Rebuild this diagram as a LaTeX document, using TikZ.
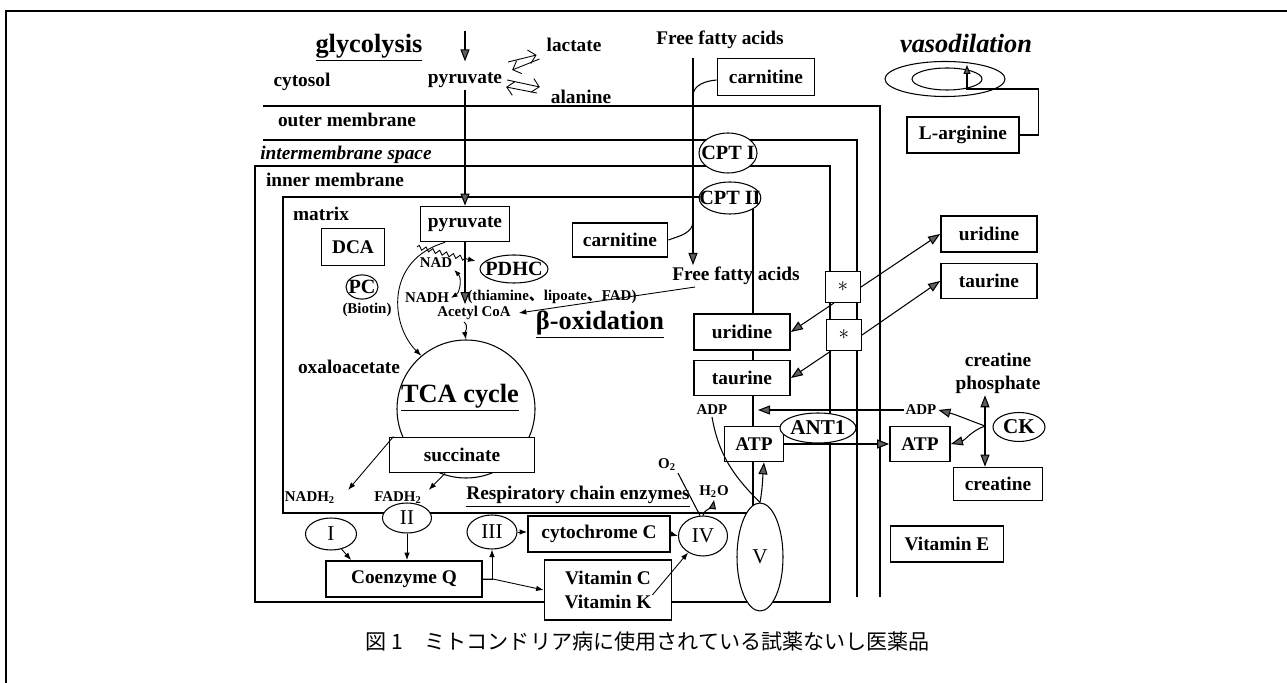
\documentclass[tikz,border=0pt]{standalone}
\usepackage{fontspec}
\setmainfont{Liberation Serif}
\newfontfamily\cjk{Noto Sans CJK JP}
\usepackage{tikz}
\usetikzlibrary{arrows.meta, positioning, shapes.geometric, calc, decorations.pathmorphing}
\definecolor{HeadGray}{RGB}{95, 95, 95}

\begin{document}
\begin{tikzpicture}[
  box/.style={draw, line width=1pt, fill=white, font=\bfseries\fontsize{11}{14}\selectfont, align=center, minimum height=0.72cm, inner sep=1pt},
  oval/.style={ellipse, draw, line width=0.6pt, fill=white, font=\bfseries\fontsize{11.5}{12}\selectfont, inner xsep=-3pt, inner ysep=1pt},
  num/.style={oval, font=\fontsize{12}{12}\selectfont},
  lab/.style={font=\bfseries\fontsize{11}{13}\selectfont, inner sep=1pt, align=center},
  sml/.style={font=\bfseries\fontsize{8.5}{9}\selectfont, inner sep=1pt},
  big/.style={font=\bfseries\fontsize{15}{17}\selectfont, inner sep=1pt},
  mem/.style={line width=0.6pt},
  arr/.style={-{Triangle[length=2.4mm, width=1.8mm, fill=HeadGray]}, line width=0.6pt},
  arrs/.style={-{Triangle[length=1.8mm, width=1.4mm, fill=HeadGray]}, line width=0.6pt},
  tarr/.style={-{Latex[length=1.5mm, width=1.1mm]}, line width=0.5pt},
  harr/.style={-{Straight Barb[length=1.4mm]}, line width=0.5pt}]
\useasboundingbox (0,0) rectangle (25.74,-13.66);
% frame and membranes
\draw[line width=1.2pt] (0.12,-13.66) -- (0.12,-0.22) -- (25.74,-0.22);
\draw[mem] (5.26,-2.12) -- (17.6,-2.12) -- (17.6,-11.94);
\draw[mem] (5.26,-2.8) -- (17.14,-2.8) -- (17.14,-11.94);
\draw[mem] (5.1,-3.32) rectangle (16.6,-12.04);
\draw[mem] (5.66,-3.94) rectangle (15.06,-10.26);
% cytosol side
\node[big] (glyco) at (7.38,-0.96) {\underline{glycolysis}};
\node[lab] (cyto) at (6.04,-1.64) {cytosol};
\node[lab] (pyr0) at (9.3,-1.6) {pyruvate};
\node[lab] (lac) at (11.48,-0.9) {lactate};
\node[lab] (ala) at (11.62,-1.94) {alanine};
\node[lab] (outm) at (6.94,-2.4) {outer membrane};
\node[lab] (intm) at (6.92,-3.1) {\itshape intermembrane space};
\node[lab] (innm) at (6.7,-3.6) {inner membrane};
\node[lab] (matr) at (6.42,-4.28) {matrix};
\node[lab] (ffa1) at (14.4,-0.8) {Free fatty acids};
\node[box, minimum width=1.94cm, minimum height=0.74cm] (carn1) at (15.32,-1.54) {carnitine};
\node[oval, minimum width=1.16cm, minimum height=0.8cm, inner xsep=-5pt] (cpt1) at (14.56,-3.06) {CPT I};
\node[oval, minimum width=1.2cm, minimum height=0.64cm, inner xsep=-5pt] (cpt2) at (14.6,-3.96) {CPT II};
% matrix
\node[box, minimum width=1.78cm, minimum height=0.7cm] (pyr1) at (9.3,-4.48) {pyruvate};
\node[box, minimum width=1.26cm, minimum height=0.74cm] (dca) at (7.06,-4.94) {DCA};
\node[box, minimum width=1.9cm, minimum height=0.68cm] (carn2) at (12.4,-4.8) {carnitine};
\node[oval, minimum width=0.64cm, minimum height=0.42cm] (pc) at (7.24,-5.74) {PC};
\node[sml] (biot) at (7.34,-6.2) {(Biotin)};
\node[oval, minimum width=1.36cm, minimum height=0.56cm] (pdhc) at (10.28,-5.38) {PDHC};
\node[sml] (thia) at (11.04,-5.94) {(thiamine{\cjk 、}lipoate{\cjk 、}FAD)};
\node[sml] (nad) at (8.72,-5.26) {NAD};
\node[sml] (nadh) at (8.54,-5.96) {NADH};
\node[sml] (acoa) at (9.48,-6.26) {Acetyl CoA};
\node[lab] (ffa2) at (14.72,-5.52) {Free fatty acids};
\node[big] (boxid) at (12.0,-6.5) {\underline{β-oxidation}};
\node[circle, draw, line width=0.6pt, minimum size=2.76cm] (tca) at (9.32,-8.18) {};
\node[big] (tcal) at (9.2,-7.96) {\underline{TCA cycle}};
\node[lab] (oxa) at (6.98,-7.34) {oxaloacetate};
\node[box, minimum width=2.9cm, minimum height=0.7cm] (succ) at (9.24,-9.1) {succinate};
\node[sml] (nadh2) at (6.2,-9.96) {NADH\textsubscript{2}};
\node[sml] (fadh2) at (7.96,-9.96) {FADH\textsubscript{2}};
\node[lab] (resp) at (11.56,-9.94) {\underline{Respiratory chain enzymes}};
\node[sml] (o2) at (13.34,-9.3) {O\textsubscript{2}};
\node[sml] (h2o) at (14.28,-9.84) {H\textsubscript{2}O};
% respiratory chain
\node[num, minimum width=1.02cm, minimum height=0.64cm] (ci) at (6.62,-10.68) {I};
\node[num, minimum width=0.98cm, minimum height=0.6cm] (cii) at (8.14,-10.36) {II};
\node[num, minimum width=1.0cm, minimum height=0.68cm] (ciii) at (9.84,-10.64) {III};
\node[box, minimum width=2.84cm] (cytc) at (11.98,-10.68) {cytochrome C};
\node[num, minimum width=0.98cm, minimum height=0.8cm] (civ) at (14.06,-10.72) {IV};
\node[num, minimum width=0.92cm, minimum height=2.16cm] (cv) at (15.2,-11.14) {V};
\node[box, minimum width=3.12cm] (coq) at (8.08,-11.58) {Coenzyme Q};
\node[box, minimum width=2.54cm, minimum height=1.2cm] (vit) at (12.16,-11.8) {Vitamin C\\Vitamin K};
% transporters and right side
\node[box, minimum width=1.92cm] (uri1) at (14.84,-6.64) {uridine};
\node[box, minimum width=1.92cm, minimum height=0.7cm] (tau1) at (14.84,-7.56) {taurine};
\node[box, minimum width=1.92cm] (uri2) at (19.78,-4.68) {uridine};
\node[box, minimum width=1.92cm, minimum height=0.7cm] (tau2) at (19.78,-5.62) {taurine};
\node[box, line width=0.6pt, minimum width=0.7cm, minimum height=0.62cm, font=\fontsize{12}{12}\selectfont] (st1) at (16.86,-5.74) {$*$};
\node[box, line width=0.6pt, minimum width=0.7cm, minimum height=0.62cm, font=\fontsize{12}{12}\selectfont] (st2) at (16.88,-6.7) {$*$};
\node[sml] (adp1) at (14.24,-8.2) {ADP};
\node[box, minimum width=1.18cm, minimum height=0.7cm] (atp1) at (15.08,-8.88) {ATP};
\node[oval, minimum width=1.52cm, minimum height=0.6cm, font=\bfseries\fontsize{12}{12}\selectfont] (ant) at (16.36,-8.56) {ANT1};
\node[sml] (adp2) at (18.42,-8.2) {ADP};
\node[box, minimum width=1.2cm, minimum height=0.7cm] (atp2) at (18.4,-8.88) {ATP};
\node[oval, minimum width=1.04cm, minimum height=0.58cm, font=\bfseries\fontsize{12}{12}\selectfont] (ck) at (20.38,-8.54) {CK};
\node[lab] (crp) at (19.96,-7.46) {creatine\\phosphate};
\node[box, minimum width=1.78cm, minimum height=0.66cm] (crea) at (19.96,-9.68) {creatine};
\node[box, minimum width=2.26cm] (vite) at (18.94,-10.88) {Vitamin E};
% vasodilation
\node[font=\bfseries\itshape\fontsize{15}{17}\selectfont] (vaso) at (19.32,-0.86) {vasodilation};
\node[ellipse, draw, line width=0.6pt, minimum width=2.4cm, minimum height=0.7cm] (vout) at (18.9,-1.58) {};
\node[ellipse, draw, line width=0.6pt, minimum width=1.4cm, minimum height=0.44cm] (vin) at (18.94,-1.58) {};
\node[box, minimum width=2.24cm] (larg) at (19.26,-2.7) {L-arginine};
\node[font=\cjk\fontsize{12}{14}\selectfont] (cap) at (12.96,-12.84) {図 1　ミトコンドリア病に使用されている試薬ないし医薬品};
% free ends
\coordinate (gin) at (9.3,-0.62);
\coordinate (fatop) at (13.86,-1.16);
\coordinate (hk1) at (13.86,-1.92);
\coordinate (hk2) at (13.86,-4.42);
\coordinate (wz) at (8.34,-4.94);
\coordinate (adpin) at (15.16,-8.2);
\coordinate (ckp) at (19.7,-8.52);
\coordinate (vbend) at (19.34,-1.78);
\coordinate (vtip) at (19.34,-1.3);
% connectors
\draw[arr] (gin) -- ([yshift=0.18cm]pyr0.north);
\draw[harr] ([shift={(0.08,0.36)}]pyr0.east) -- ([shift={(-0.16,-0.2)}]lac.west);
\draw[harr] ([shift={(-0.1,-0.28)}]lac.west) -- ([shift={(0.16,0.2)}]pyr0.east);
\draw[harr] ([shift={(0.06,0)}]pyr0.east) -- ([shift={(-0.18,0.2)}]ala.west);
\draw[harr] ([shift={(-0.24,0.08)}]ala.west) -- ([shift={(0.04,-0.14)}]pyr0.east);
\draw[arr] (pyr0) -- (pyr1);
\draw[arr] (fatop) -- (fatop |- ffa2.north);
\draw[mem] ([yshift=-0.06cm]carn1.west) to[out=185,in=90] (hk1);
\draw[mem] (carn2.east) to[out=20,in=-90] (hk2);
\draw[tarr, decorate, decoration={zigzag, amplitude=1.2pt, segment length=4pt, post length=2mm}] (wz) -- ([shift={(-0.08,0.16)}]pdhc.west);
\draw[{Latex[length=1.3mm, width=1mm]}-{Latex[length=1.3mm, width=1mm]}, line width=0.5pt] (nadh.east) to[bend right=50] (nad.south east);
\draw[arr] (pyr1.south) -- (pyr1.south |- acoa.north);
\draw[tarr] ([xshift=-0.4cm]pyr1.south) .. controls (7.7,-5.2) and (7.8,-6.5) .. (tca.130);
\draw[tarr] ([xshift=-0.2cm]acoa.south) to[out=-40,in=100] (tca.north);
\draw[tarr] ([xshift=0.5cm]ffa2.south west) -- ([xshift=0.12cm]acoa.east);
\draw[tarr] (succ.165) -- ([xshift=0.22cm]nadh2.north east);
\draw[tarr] ([xshift=-0.34cm]succ.south) -- ([xshift=0.1cm]fadh2.north east);
\draw[mem] (o2.south east) -- ([xshift=-0.06cm]civ.north);
\draw[arrs] (civ.north) to[out=75,in=-100] (h2o.south);
\draw[tarr] (ci.-55) -- ([xshift=0.52cm]coq.north west);
\draw[tarr] (cii.south) -- (cii.south |- coq.north);
\draw[tarr] (coq.east) -| (ciii.south);
\draw[tarr] (coq.east) -- ([xshift=0.2cm]coq.east) -- (vit.west);
\draw[tarr] (ciii.east) -- (ciii.east -| cytc.west);
\draw[tarr] (cytc.east) -- (civ.west);
\draw[tarr] ([shift={(-0.4,-0.1)}]vit.east) -- (civ.228);
\draw[arr] (st1.east) -- (uri2.west);
\draw[arr] ([xshift=0.18cm]st1.south west) -- (uri1.east);
\draw[arr] (st2.east) -- (tau2.west);
\draw[arr] ([xshift=0.1cm]st2.south west) -- (tau1.east);
\draw[arr] (adp2.west) -- (adpin);
\draw[arr] (atp1.east) -- (atp2.west);
\draw[mem] (adp1.south) to[out=-80,in=135] (cv.north);
\draw[arr] (cv.north) to[out=80,in=-95] ([xshift=0.2cm]atp1.south);
\draw[{Triangle[length=2.4mm, width=1.8mm, fill=HeadGray]}-{Triangle[length=2.4mm, width=1.8mm, fill=HeadGray]}, line width=0.6pt] ([xshift=-0.26cm]crp.south) -- ([xshift=-0.26cm]crea.north);
\draw[arr] (ckp) to[out=160,in=-15] (adp2.east);
\draw[arr] (ckp) to[out=-160,in=15] (atp2.east);
\draw[arrs] (larg.east) -- ++(0.38,0) |- (vbend) -- (vtip);
\end{tikzpicture}
\end{document}
